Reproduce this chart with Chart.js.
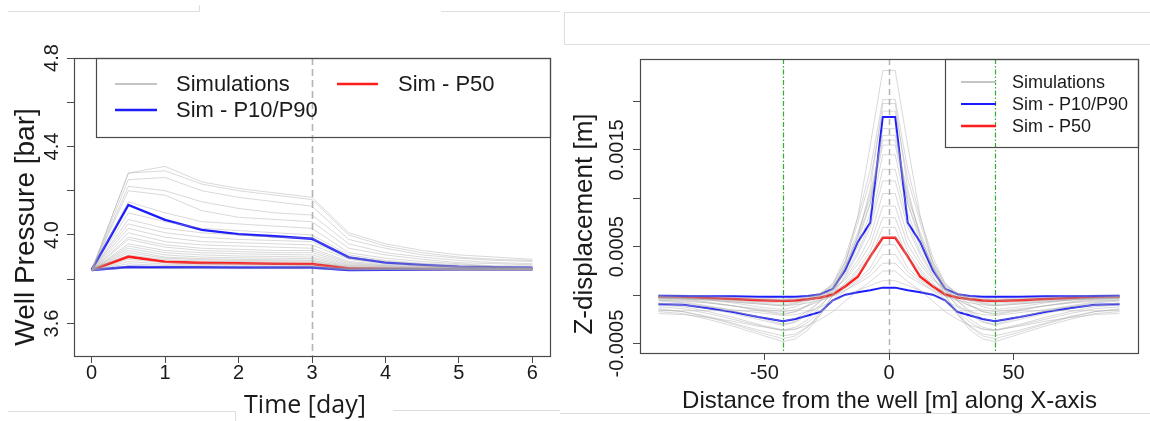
<!DOCTYPE html>
<html>
<head>
<meta charset="utf-8">
<script src="https://cdn.jsdelivr.net/npm/chart.js@4.4.1/dist/chart.umd.min.js"></script>
<style>
  body { margin: 0; background: #fff; width: 1150px; height: 421px; overflow: hidden; position: relative; }
  canvas { position: absolute; top: 0; }
  #pressure { left: 0; width: 560px; height: 421px; }
  #displacement { left: 560px; width: 590px; height: 421px; }
  .rule { position: absolute; background: #dedede; }
</style>
</head>
<body>
<!-- faint frame lines left over from the original figure layout -->
<div class="rule" style="left:8px;top:11px;width:192px;height:1px"></div>
<div class="rule" style="left:199px;top:5px;width:1px;height:6px"></div>
<div class="rule" style="left:441px;top:11px;width:119px;height:1px"></div>
<div class="rule" style="left:564px;top:12px;width:586px;height:1px"></div>
<div class="rule" style="left:564px;top:12px;width:1px;height:32px"></div>
<div class="rule" style="left:564px;top:44px;width:586px;height:1px"></div>
<div class="rule" style="left:8px;top:411px;width:227px;height:1px"></div>
<div class="rule" style="left:235px;top:411px;width:1px;height:10px"></div>
<div class="rule" style="left:393px;top:410px;width:167px;height:1px"></div>
<div class="rule" style="left:560px;top:413px;width:590px;height:1px"></div>

<canvas id="pressure" width="560" height="421"></canvas>
<canvas id="displacement" width="590" height="421"></canvas>

<script>
// ---- left panel: well pressure vs time ----
const timeDays = [0, 0.5, 1, 1.5, 2, 2.5, 3, 3.5, 4, 4.5, 5, 5.5, 6];
const pressureSims = [
  [3.84, 4.28, 4.31, 4.24, 4.21, 4.19, 4.17, 4.01, 3.96, 3.93, 3.91, 3.90, 3.89],
  [3.84, 4.28, 4.29, 4.23, 4.20, 4.18, 4.16, 4.00, 3.95, 3.92, 3.90, 3.89, 3.885],
  [3.84, 4.25, 4.26, 4.20, 4.17, 4.15, 4.13, 3.98, 3.94, 3.91, 3.895, 3.885, 3.88],
  [3.84, 4.22, 4.20, 4.15, 4.12, 4.10, 4.09, 3.96, 3.92, 3.90, 3.885, 3.875, 3.87],
  [3.84, 4.20, 4.18, 4.11, 4.08, 4.07, 4.06, 3.94, 3.91, 3.89, 3.875, 3.87, 3.865],
  [3.84, 4.15, 4.10, 4.06, 4.05, 4.04, 4.03, 3.92, 3.895, 3.88, 3.87, 3.86, 3.86],
  [3.84, 4.10, 4.06, 4.03, 4.02, 4.01, 4.00, 3.91, 3.885, 3.872, 3.865, 3.858, 3.855],
  [3.84, 4.07, 4.03, 4.01, 4.00, 3.99, 3.985, 3.90, 3.88, 3.868, 3.86, 3.856, 3.853],
  [3.84, 4.05, 4.01, 3.99, 3.98, 3.975, 3.97, 3.895, 3.875, 3.865, 3.858, 3.854, 3.851],
  [3.84, 4.03, 3.99, 3.97, 3.965, 3.96, 3.955, 3.89, 3.87, 3.862, 3.856, 3.852, 3.85],
  [3.84, 4.01, 3.97, 3.955, 3.95, 3.945, 3.94, 3.88, 3.866, 3.86, 3.855, 3.851, 3.849],
  [3.84, 3.99, 3.955, 3.94, 3.935, 3.93, 3.93, 3.875, 3.862, 3.857, 3.853, 3.85, 3.848],
  [3.84, 3.98, 3.945, 3.93, 3.925, 3.92, 3.92, 3.87, 3.86, 3.855, 3.851, 3.849, 3.847],
  [3.84, 3.96, 3.93, 3.92, 3.915, 3.912, 3.91, 3.865, 3.857, 3.852, 3.85, 3.848, 3.847],
  [3.84, 3.95, 3.92, 3.91, 3.905, 3.903, 3.90, 3.862, 3.855, 3.851, 3.849, 3.847, 3.846],
  [3.84, 3.94, 3.91, 3.90, 3.897, 3.895, 3.893, 3.858, 3.853, 3.85, 3.848, 3.846, 3.845],
  [3.84, 3.93, 3.90, 3.893, 3.89, 3.888, 3.886, 3.855, 3.851, 3.849, 3.847, 3.846, 3.845],
  [3.84, 3.92, 3.895, 3.888, 3.885, 3.883, 3.882, 3.852, 3.85, 3.848, 3.846, 3.845, 3.844],
  [3.84, 3.91, 3.888, 3.882, 3.88, 3.878, 3.877, 3.85, 3.848, 3.847, 3.846, 3.845, 3.844],
  [3.84, 3.89, 3.875, 3.872, 3.87, 3.869, 3.868, 3.847, 3.846, 3.845, 3.845, 3.844, 3.844],
  [3.84, 3.88, 3.868, 3.865, 3.864, 3.863, 3.862, 3.845, 3.845, 3.844, 3.844, 3.844, 3.843],
  [3.84, 3.87, 3.862, 3.86, 3.859, 3.858, 3.858, 3.844, 3.844, 3.843, 3.843, 3.843, 3.843],
  [3.84, 3.86, 3.856, 3.855, 3.855, 3.854, 3.854, 3.843, 3.843, 3.843, 3.842, 3.842, 3.842],
  [3.84, 3.85, 3.848, 3.848, 3.848, 3.848, 3.848, 3.841, 3.842, 3.842, 3.842, 3.842, 3.842]
];
const pressureP90 = [3.842, 4.136, 4.068, 4.023, 4.004, 3.994, 3.983, 3.899, 3.875, 3.865, 3.857, 3.854, 3.852];
const pressureP50 = [3.842, 3.902, 3.879, 3.874, 3.872, 3.870, 3.869, 3.849, 3.847, 3.846, 3.846, 3.846, 3.846];
const pressureP10 = [3.842, 3.855, 3.854, 3.854, 3.853, 3.853, 3.853, 3.842, 3.843, 3.844, 3.845, 3.845, 3.845];
const timeTicks = [0, 1, 2, 3, 4, 5, 6];
const pressureTicks = [3.6, 3.8, 4.0, 4.2, 4.4, 4.6, 4.8];
const pressureTickLabels = ['3.6', '4.0', '4.4', '4.8'];
const timeMarkers = [3];

// ---- right panel: vertical displacement profile (values in 1e-3 m) ----
const distX = [-92.5, -82.5, -72.5, -62.5, -52.5, -42.5, -37.5, -32.5, -27.5, -22.5, -17.5, -12.5, -7.5, -2.5,
               2.5, 7.5, 12.5, 17.5, 22.5, 27.5, 32.5, 37.5, 42.5, 52.5, 62.5, 72.5, 82.5, 92.5];
const dispSims = [
  [-0.02,-0.03,-0.05,-0.08,-0.12,-0.15,-0.12,-0.06,-0.02,0.06,0.33,0.82,1.55,2.32, 2.32,1.55,0.82,0.33,0.06,-0.02,-0.06,-0.12,-0.15,-0.12,-0.08,-0.05,-0.03,-0.02],
  [-0.03,-0.04,-0.07,-0.11,-0.16,-0.2,-0.17,-0.1,0,0.12,0.4,0.8,1.3,2.02, 2.02,1.3,0.8,0.4,0.12,0,-0.1,-0.17,-0.2,-0.16,-0.11,-0.07,-0.04,-0.03],
  [-0.05,-0.07,-0.11,-0.16,-0.23,-0.3,-0.27,-0.18,-0.06,0.08,0.3,0.6,1.1,1.98, 1.98,1.1,0.6,0.3,0.08,-0.06,-0.18,-0.27,-0.3,-0.23,-0.16,-0.11,-0.07,-0.05],
  [0,0,-0.01,-0.02,-0.03,-0.04,-0.03,-0.01,0.02,0.1,0.35,0.75,1.2,1.9, 1.9,1.2,0.75,0.35,0.1,0.02,-0.01,-0.03,-0.04,-0.03,-0.02,-0.01,0,0],
  [-0.1,-0.12,-0.17,-0.23,-0.3,-0.36,-0.33,-0.25,-0.12,0.05,0.28,0.55,0.95,1.72, 1.72,0.95,0.55,0.28,0.05,-0.12,-0.25,-0.33,-0.36,-0.3,-0.23,-0.17,-0.12,-0.1],
  [-0.02,-0.03,-0.04,-0.06,-0.08,-0.1,-0.08,-0.04,0.02,0.12,0.35,0.65,1,1.6, 1.6,1,0.65,0.35,0.12,0.02,-0.04,-0.08,-0.1,-0.08,-0.06,-0.04,-0.03,-0.02],
  [-0.06,-0.08,-0.12,-0.17,-0.22,-0.27,-0.24,-0.16,-0.06,0.06,0.25,0.5,0.85,1.45, 1.45,0.85,0.5,0.25,0.06,-0.06,-0.16,-0.24,-0.27,-0.22,-0.17,-0.12,-0.08,-0.06],
  [-0.01,-0.02,-0.03,-0.04,-0.05,-0.06,-0.05,-0.03,0,0.07,0.22,0.45,0.75,1.3, 1.3,0.75,0.45,0.22,0.07,0,-0.03,-0.05,-0.06,-0.05,-0.04,-0.03,-0.02,-0.01],
  [-0.14,-0.17,-0.23,-0.3,-0.38,-0.45,-0.42,-0.33,-0.18,0,0.2,0.42,0.7,1.18, 1.18,0.7,0.42,0.2,0,-0.18,-0.33,-0.42,-0.45,-0.38,-0.3,-0.23,-0.17,-0.14],
  [-0.04,-0.05,-0.08,-0.11,-0.15,-0.19,-0.17,-0.11,-0.04,0.04,0.18,0.36,0.6,1.05, 1.05,0.6,0.36,0.18,0.04,-0.04,-0.11,-0.17,-0.19,-0.15,-0.11,-0.08,-0.05,-0.04],
  [-0.03,-0.04,-0.05,-0.07,-0.09,-0.11,-0.09,-0.05,0,0.06,0.16,0.32,0.52,0.92, 0.92,0.52,0.32,0.16,0.06,0,-0.05,-0.09,-0.11,-0.09,-0.07,-0.05,-0.04,-0.03],
  [-0.08,-0.1,-0.14,-0.19,-0.25,-0.31,-0.28,-0.2,-0.1,0.01,0.13,0.27,0.45,0.8, 0.8,0.45,0.27,0.13,0.01,-0.1,-0.2,-0.28,-0.31,-0.25,-0.19,-0.14,-0.1,-0.08],
  [-0.02,-0.03,-0.04,-0.05,-0.07,-0.08,-0.07,-0.05,-0.02,0.03,0.11,0.22,0.38,0.7, 0.7,0.38,0.22,0.11,0.03,-0.02,-0.05,-0.07,-0.08,-0.07,-0.05,-0.04,-0.03,-0.02],
  [-0.05,-0.06,-0.08,-0.11,-0.14,-0.17,-0.15,-0.11,-0.06,0,0.07,0.16,0.28,0.52, 0.52,0.28,0.16,0.07,0,-0.06,-0.11,-0.15,-0.17,-0.14,-0.11,-0.08,-0.06,-0.05],
  [-0.12,-0.14,-0.19,-0.25,-0.31,-0.37,-0.35,-0.28,-0.17,-0.06,0.05,0.14,0.24,0.42, 0.42,0.24,0.14,0.05,-0.06,-0.17,-0.28,-0.35,-0.37,-0.31,-0.25,-0.19,-0.14,-0.12],
  [-0.03,-0.04,-0.05,-0.07,-0.09,-0.11,-0.1,-0.08,-0.05,-0.01,0.05,0.12,0.2,0.33, 0.33,0.2,0.12,0.05,-0.01,-0.05,-0.08,-0.1,-0.11,-0.09,-0.07,-0.05,-0.04,-0.03],
  [-0.19,-0.2,-0.23,-0.27,-0.32,-0.36,-0.35,-0.31,-0.25,-0.17,-0.06,0.05,0.14,0.25, 0.25,0.14,0.05,-0.06,-0.17,-0.25,-0.31,-0.35,-0.36,-0.32,-0.27,-0.23,-0.2,-0.19],
  [-0.16,-0.16,-0.16,-0.16,-0.16,-0.16,-0.16,-0.16,-0.16,-0.155,-0.155,-0.155,-0.155,-0.155, -0.155,-0.155,-0.155,-0.155,-0.155,-0.16,-0.16,-0.16,-0.16,-0.16,-0.16,-0.16,-0.16,-0.16],
  [-0.09,-0.1,-0.12,-0.15,-0.18,-0.21,-0.2,-0.17,-0.12,-0.06,0,0.05,0.1,0.15, 0.15,0.1,0.05,0,-0.06,-0.12,-0.17,-0.2,-0.21,-0.18,-0.15,-0.12,-0.1,-0.09],
  [-0.17,-0.19,-0.25,-0.32,-0.4,-0.48,-0.45,-0.36,-0.2,0,0.3,0.6,0.95,1.55, 1.55,0.95,0.6,0.3,0,-0.2,-0.36,-0.45,-0.48,-0.4,-0.32,-0.25,-0.19,-0.17],
  [-0.15,-0.17,-0.22,-0.29,-0.36,-0.42,-0.4,-0.32,-0.2,-0.05,0.1,0.25,0.4,0.6, 0.6,0.4,0.25,0.1,-0.05,-0.2,-0.32,-0.4,-0.42,-0.36,-0.29,-0.22,-0.17,-0.15],
  [-0.01,-0.01,-0.02,-0.03,-0.04,-0.05,-0.04,-0.02,0.01,0.09,0.3,0.62,1.05,1.65, 1.65,1.05,0.62,0.3,0.09,0.01,-0.02,-0.04,-0.05,-0.04,-0.03,-0.02,-0.01,-0.01]
];
const dispP90 = [-0.007,-0.008,-0.01,-0.012,-0.015,-0.017,-0.015,-0.008,0.01,0.066,0.26,0.55,0.75,1.84, 1.84,0.75,0.55,0.26,0.066,0.01,-0.008,-0.015,-0.017,-0.015,-0.012,-0.01,-0.008,-0.007];
const dispP50 = [-0.017,-0.02,-0.03,-0.04,-0.052,-0.059,-0.055,-0.042,-0.024,0.007,0.093,0.19,0.40,0.593, 0.593,0.40,0.19,0.093,0.007,-0.024,-0.042,-0.055,-0.059,-0.052,-0.04,-0.03,-0.02,-0.017];
const dispP10 = [-0.093,-0.10,-0.135,-0.175,-0.226,-0.269,-0.245,-0.21,-0.173,-0.052,0.005,0.03,0.05,0.078, 0.078,0.05,0.03,0.005,-0.052,-0.173,-0.21,-0.245,-0.269,-0.226,-0.175,-0.135,-0.10,-0.093];
const distTicks = [-50, 0, 50];
const dispTicks = [-0.5, 0, 0.5, 1, 1.5, 2];
const dispTickLabels = ['-0.0005', '0.0005', '0.0015'];
const wellMarkers = [0];
const radiusMarkers = [-42.5, 42.5];

const SIM_GREY = 'rgba(165,165,165,0.42)';
const P1090_BLUE = '#1c1cff';
const P50_RED = '#ff1c1c';
const INK = '#1a1a1a';
const FRAME = '#4a4a4a';

function series(xs, ys, color, width) {
  return {
    data: xs.map((x, i) => ({ x: x, y: ys[i] })),
    borderColor: color,
    borderWidth: width,
    pointRadius: 0,
    tension: 0,
    fill: false
  };
}

function rAxis(min, max, ticks, fitSize, labelPad, showLabels) {
  return {
    type: 'linear',
    min: min,
    max: max,
    afterBuildTicks: s => { s.ticks = ticks.map(v => ({ value: v })); },
    afterFit: s => { if (s.isHorizontal()) s.height = fitSize; else s.width = fitSize; },
    border: { display: false },
    grid: { drawOnChartArea: false, drawTicks: true, tickLength: 7, color: FRAME, lineWidth: 1 },
    ticks: {
      display: true,
      autoSkip: false,
      maxRotation: 0,
      padding: labelPad,
      color: INK,
      font: { family: '"Liberation Sans", Arial, sans-serif', size: 20 },
      callback: showLabels ? (v => String(v)) : (() => '')
    }
  };
}

// draws the R-style frame, rotated y labels, axis titles, marker lines and legend
function decor(o) {
  return {
    id: 'decor',
    beforeDatasetsDraw(chart) {
      const { ctx, chartArea: a, scales: { x } } = chart;
      ctx.save();
      ctx.beginPath();
      ctx.rect(a.left, a.top, a.right - a.left, a.bottom - a.top);
      ctx.clip();
      o.vlines.forEach(v => {
        v.at.forEach(val => {
          const px = Math.round(x.getPixelForValue(val)) + 0.5;
          ctx.strokeStyle = v.color;
          ctx.lineWidth = v.width;
          ctx.setLineDash(v.dash);
          ctx.beginPath();
          ctx.moveTo(px, a.top);
          ctx.lineTo(px, a.bottom);
          ctx.stroke();
        });
      });
      ctx.restore();
    },
    afterDraw(chart) {
      const { ctx, chartArea: a, scales: { y } } = chart;
      ctx.save();
      ctx.strokeStyle = FRAME;
      ctx.lineWidth = 1.2;
      ctx.strokeRect(Math.round(a.left) + 0.5, Math.round(a.top) + 0.5,
                     Math.round(a.right - a.left), Math.round(a.bottom - a.top));

      // y tick labels, rotated like R's default
      ctx.fillStyle = INK;
      ctx.font = '20px "Liberation Sans", Arial, sans-serif';
      ctx.textAlign = 'center';
      ctx.textBaseline = 'alphabetic';
      y.ticks.forEach(t => {
        const txt = o.yFormat(t.value);
        if (!o.yLabels.includes(txt)) return;
        ctx.save();
        ctx.translate(o.yLabelX, y.getPixelForValue(t.value));
        ctx.rotate(-Math.PI / 2);
        ctx.fillText(txt, 0, 0);
        ctx.restore();
      });

      // axis titles
      ctx.font = o.xTitle.font;
      ctx.fillText(o.xTitle.text, o.xTitle.x, o.xTitle.y);
      ctx.save();
      ctx.font = o.yTitle.font;
      ctx.translate(o.yTitle.x, o.yTitle.y);
      ctx.rotate(-Math.PI / 2);
      ctx.fillText(o.yTitle.text, 0, 0);
      ctx.restore();

      // legend
      const L = o.legend;
      ctx.strokeStyle = FRAME;
      ctx.lineWidth = 1.2;
      ctx.strokeRect(L.box[0] + 0.5, L.box[1] + 0.5, L.box[2] - L.box[0], L.box[3] - L.box[1]);
      ctx.font = L.font;
      ctx.textAlign = 'left';
      ctx.textBaseline = 'middle';
      L.items.forEach(it => {
        ctx.strokeStyle = it.color;
        ctx.lineWidth = it.width;
        ctx.beginPath();
        ctx.moveTo(it.x1, it.y);
        ctx.lineTo(it.x2, it.y);
        ctx.stroke();
        ctx.fillStyle = INK;
        ctx.fillText(it.text, it.tx, it.y + 1);
      });
      ctx.restore();
    }
  };
}

const simLabel = 'Simulations';
const p1090Label = 'Sim - P10/P90';
const p50Label = 'Sim - P50';

// ---- left chart ----
new Chart(document.getElementById('pressure'), {
  type: 'line',
  data: {
    datasets: [
      ...pressureSims.map(s => series(timeDays, s, SIM_GREY, 1)),
      series(timeDays, pressureP90, P1090_BLUE, 2.4),
      series(timeDays, pressureP10, P1090_BLUE, 2.4),
      series(timeDays, pressureP50, P50_RED, 2.6)
    ]
  },
  options: {
    responsive: false,
    animation: false,
    devicePixelRatio: 1,
    layout: { padding: { left: 0, top: 58, right: 10, bottom: 0 } },
    plugins: { legend: { display: false }, tooltip: { enabled: false } },
    scales: {
      x: rAxis(-0.24, 6.24, timeTicks, 65, -2, true),
      y: rAxis(3.453, 4.8, pressureTicks, 74, 0, false)
    }
  },
  plugins: [decor({
    vlines: [{ at: timeMarkers, color: '#b4b4b4', width: 1.6, dash: [7, 4] }],
    yFormat: v => v.toFixed(1),
    yLabels: pressureTickLabels,
    yLabelX: 57.5,
    xTitle: { text: 'Time [day]', x: 305, y: 413, font: '25px "Open Sans", sans-serif' },
    yTitle: { text: 'Well Pressure [bar]', x: 34, y: 227, font: '28px "Liberation Sans", Arial, sans-serif' },
    legend: {
      box: [96, 58, 550, 137],
      font: '22px "Liberation Sans", Arial, sans-serif',
      items: [
        { text: simLabel, color: '#c4c4c4', width: 2, x1: 115, x2: 157, y: 84, tx: 176 },
        { text: p1090Label, color: P1090_BLUE, width: 2.4, x1: 115, x2: 157, y: 110, tx: 176 },
        { text: p50Label, color: P50_RED, width: 2.4, x1: 337, x2: 378, y: 84, tx: 398 }
      ]
    }
  })]
});

// ---- right chart ----
new Chart(document.getElementById('displacement'), {
  type: 'line',
  data: {
    datasets: [
      ...dispSims.map(s => series(distX, s, SIM_GREY, 1)),
      series(distX, dispP90, P1090_BLUE, 2),
      series(distX, dispP10, P1090_BLUE, 2),
      series(distX, dispP50, P50_RED, 2.4)
    ]
  },
  options: {
    responsive: false,
    animation: false,
    devicePixelRatio: 1,
    layout: { padding: { left: 0, top: 59, right: 12, bottom: 0 } },
    plugins: { legend: { display: false }, tooltip: { enabled: false } },
    scales: {
      x: rAxis(-99.9, 99.9, distTicks, 68, 1, true),
      y: rAxis(-0.597, 2.439, dispTicks, 80, 0, false)
    }
  },
  plugins: [decor({
    vlines: [
      { at: wellMarkers, color: '#b4b4b4', width: 1.5, dash: [6, 4] },
      { at: radiusMarkers, color: '#2fae2f', width: 1.2, dash: [5, 2, 1.5, 2] }
    ],
    yFormat: v => (v / 1000).toFixed(4),
    yLabels: dispTickLabels,
    yLabelX: 63.3,
    xTitle: { text: 'Distance from the well [m] along X-axis', x: 329.5, y: 408, font: '24px "Liberation Sans", Arial, sans-serif' },
    yTitle: { text: 'Z-displacement [m]', x: 32, y: 224, font: '26px "Liberation Sans", Arial, sans-serif' },
    legend: {
      box: [385, 59, 578, 147],
      font: '18px "Liberation Sans", Arial, sans-serif',
      items: [
        { text: simLabel, color: '#c4c4c4', width: 2, x1: 401, x2: 436, y: 82, tx: 452 },
        { text: p1090Label, color: P1090_BLUE, width: 2, x1: 401, x2: 436, y: 104, tx: 452 },
        { text: p50Label, color: P50_RED, width: 2.4, x1: 401, x2: 436, y: 126, tx: 452 }
      ]
    }
  })]
});
</script>
</body>
</html>
